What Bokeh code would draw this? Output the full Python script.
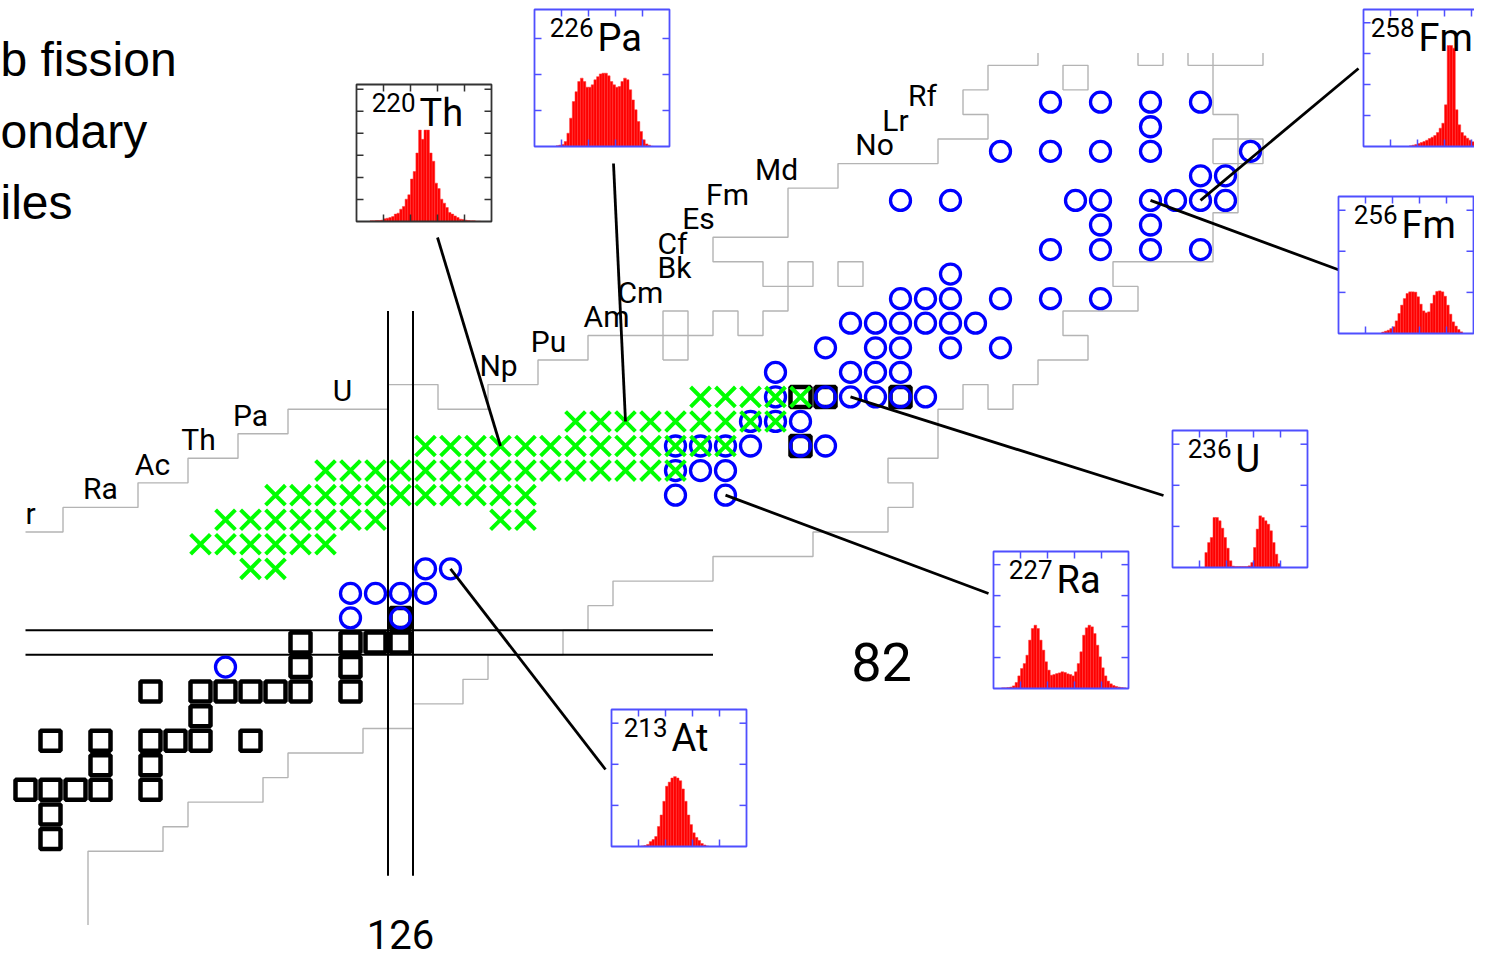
import numpy as np
from bokeh.plotting import figure
from bokeh.models import Range1d
from bokeh.core.properties import value
from bokeh.embed import file_html
from bokeh.resources import INLINE

# ---------------- data ----------------
N_MAGIC = 126
Z_MAGIC = 82

# black squares (Z, neutron numbers)
square_rows = [
    (74, [112]), (75, [112]), (76, [111, 112, 113, 114, 116]), (77, [114, 116]),
    (78, [112, 114, 116, 117, 118, 120]), (79, [118]),
    (80, [116, 118, 119, 120, 121, 122, 124]), (81, [122, 124]),
    (82, [122, 124, 125, 126]), (83, [126]), (90, [142]), (92, [142, 143, 146]),
]
# blue circles (Z, neutron numbers)
circle_rows = [
    (81, [119]), (83, [124, 126]), (84, [124, 125, 126, 127]), (85, [127, 128]),
    (88, [137, 139]), (89, [137, 138, 139]), (90, [137, 138, 139, 140, 142, 143]),
    (91, [140, 141, 142]), (92, [141, 143, 144, 145, 146, 147]),
    (93, [141, 144, 145, 146]), (94, [143, 145, 146, 148, 150]),
    (95, [144, 145, 146, 147, 148, 149]), (96, [146, 147, 148, 150, 152, 154]),
    (97, [148]), (98, [152, 154, 156, 158]), (99, [154, 156]),
    (100, [146, 148, 153, 154, 156, 157, 158, 159]), (101, [158, 159]),
    (102, [150, 152, 154, 156, 160]), (103, [156]), (104, [152, 154, 156, 158]),
]
# green crosses (Z, neutron numbers)
cross_rows = [
    (85, [120, 121]),
    (86, [118, 119, 120, 121, 122, 123]),
    (87, [119, 120, 121, 122, 123, 124, 125, 130, 131]),
    (88, [121, 122, 123, 124, 125, 126, 127, 128, 129, 130, 131]),
    (89, [123, 124, 125, 126, 127, 128, 129, 130, 131, 132, 133, 134, 135, 136, 137]),
    (90, [127, 128, 129, 130, 131, 132, 133, 134, 135, 136, 137, 138, 139]),
    (91, [133, 134, 135, 136, 137, 138, 139, 140, 141]),
    (92, [138, 139, 140, 141, 142]),
]

# element row labels
element_labels = ["r", "Ra", "Ac", "Th", "Pa", "U", "Np", "Pu", "Am", "Cm",
                  "Bk", "Cf", "Es", "Fm", "Md", "No", "Lr", "Rf"]
element_Z = [87, 88, 89, 90, 91, 92, 93, 94, 95, 96, 97, 98, 99, 100, 101, 102, 103, 104]

# boundaries of known nuclides (cell edges, N, Z)
upper_boundary = [
    (111, 86.5), (112.5, 86.5), (112.5, 87.5), (115.5, 87.5), (115.5, 88.5), (117.5, 88.5),
    (117.5, 89.5), (119.5, 89.5), (119.5, 90.5), (121.5, 90.5), (121.5, 91.5), (125.5, 91.5),
    (125.5, 92.5), (127.5, 92.5), (127.5, 91.5), (129.5, 91.5), (129.5, 92.5), (131.5, 92.5),
    (131.5, 93.5), (133.5, 93.5), (133.5, 94.5), (138.5, 94.5), (138.5, 95.5), (139.5, 95.5),
    (139.5, 94.5), (140.5, 94.5), (140.5, 95.5), (141.5, 95.5), (141.5, 96.5), (140.5, 96.5),
    (140.5, 97.5), (138.5, 97.5), (138.5, 98.5), (141.5, 98.5), (141.5, 100.5), (143.5, 100.5),
    (143.5, 101.5), (147.5, 101.5), (147.5, 102.5), (149.5, 102.5), (149.5, 103.5), (148.5, 103.5),
    (148.5, 104.5), (149.5, 104.5), (149.5, 105.5), (151.5, 105.5), (151.5, 106.0),
]
lower_boundary = [
    (113.5, 70.5), (113.5, 73.5), (116.5, 73.5), (116.5, 74.5), (117.5, 74.5), (117.5, 75.5),
    (120.5, 75.5), (120.5, 76.5), (121.5, 76.5), (121.5, 77.5), (124.5, 77.5), (124.5, 78.5),
    (126.5, 78.5), (126.5, 79.5), (128.5, 79.5), (128.5, 80.5), (129.5, 80.5), (129.5, 81.5),
    (132.5, 81.5), (132.5, 82.5), (133.5, 82.5), (133.5, 83.5), (134.5, 83.5), (134.5, 84.5),
    (138.5, 84.5), (138.5, 85.5), (142.5, 85.5), (142.5, 86.5), (145.5, 86.5), (145.5, 87.5),
    (146.5, 87.5), (146.5, 88.5), (145.5, 88.5), (145.5, 89.5), (147.5, 89.5), (147.5, 91.5),
    (148.5, 91.5), (148.5, 92.5), (149.5, 92.5), (149.5, 91.5), (150.5, 91.5), (150.5, 92.5),
    (151.5, 92.5), (151.5, 93.5), (153.5, 93.5), (153.5, 94.5), (152.5, 94.5), (152.5, 95.5),
    (155.5, 95.5), (155.5, 96.5), (154.5, 96.5), (154.5, 97.5), (158.5, 97.5), (158.5, 99.5),
    (159.5, 99.5), (159.5, 103.5), (158.5, 103.5), (158.5, 106.0),
]
extra_boundaries = [
    [(136.5, 93.5), (137.5, 93.5), (137.5, 95.5), (136.5, 95.5), (136.5, 93.5)],
    [(141.5, 96.5), (142.5, 96.5), (142.5, 97.5), (141.5, 97.5), (141.5, 96.5)],
    [(143.5, 96.5), (144.5, 96.5), (144.5, 97.5), (143.5, 97.5), (143.5, 96.5)],
    [(158.5, 101.5), (160.5, 101.5), (160.5, 102.5), (158.5, 102.5), (158.5, 101.5)],
    [(152.5, 104.5), (153.5, 104.5), (153.5, 105.5), (152.5, 105.5), (152.5, 104.5)],
    [(155.5, 106.0), (155.5, 105.5), (156.5, 105.5), (156.5, 106.0)],
    [(157.5, 106.0), (157.5, 105.5), (160.5, 105.5), (160.5, 106.0)],
]

# fission-fragment mass distributions (percent of inset height per bin)
inset_symbol = ["At", "Th", "Pa", "Ra", "U", "Fm", "Fm"]
inset_A = [213, 220, 226, 227, 236, 256, 258]
inset_Z = [85, 90, 91, 88, 92, 100, 100]
hist_start = [11, 5, 8, 3, 12, 16, 17]
hist_values = [
    [0.4, 0.7, 1.5, 3.6, 5.1, 7.3, 14.6, 23, 33, 44, 47, 50, 51, 50, 48, 42, 33, 23, 16, 10,
     6.6, 4.4, 2.2, 1.1, 0.4],
    [0.5, 0.5, 0.7, 0.7, 1, 2, 2.4, 2.9, 3.6, 5.4, 6.1, 9, 11, 16.3, 19.5, 31, 36.5, 50, 66.7,
     60, 66.7, 66.7, 50, 44, 28, 24, 16.3, 13.4, 10.2, 6.6, 5.4, 4.1, 2.9, 1.7, 1.5, 1, 0.7,
     0.5, 0.5, 0.2, 0.2],
    [0.5, 1, 1.5, 3.6, 9.7, 20.7, 32.8, 40, 47.4, 49.9, 47.4, 43.3, 43.3, 45, 48.7, 51, 53,
     53.5, 53.5, 51.6, 47.4, 45, 43.3, 43.8, 47.4, 49.9, 48.7, 41.4, 34, 26.8, 18.2, 11, 4.9,
     1.9, 1, 0.2],
    [0.5, 0.5, 0.7, 1, 1.9, 4.4, 9.2, 14.6, 18.2, 24.3, 35.3, 43.8, 46.2, 43.8, 35.3, 28, 19.5,
     13.4, 9.7, 10.2, 10.9, 11.4, 12.2, 11.7, 10.7, 10.2, 9.2, 12.2, 18.2, 26.8, 38.9, 44.3,
     46.2, 45, 40.1, 31.6, 23.1, 15.1, 9.2, 5.4, 3.4, 2.2, 1.5, 1, 0.7, 0.5],
    [10.9, 18.2, 21.9, 36.5, 36.5, 34.1, 28.7, 21.9, 14.1, 4.9, 1, 0.7, 0.7, 0.7, 0.7, 0.7,
     1.2, 3.6, 14.6, 28, 37.7, 36.5, 34.1, 31.6, 26.8, 18.2, 9.7, 2.9],
    [1, 1.7, 2.4, 3.6, 4.9, 9.2, 14.6, 20.7, 25.5, 29.2, 30.4, 30.4, 30.2, 26.8, 21.4, 16.5,
     15.1, 15.8, 21.9, 28, 30.7, 31.1, 30.4, 27.2, 20.7, 14.1, 8.5, 5.4, 2.9, 1.2],
    [0.5, 1, 1.5, 2.2, 2.9, 3.6, 4.6, 5.8, 6.8, 8, 10.2, 13.4, 17, 30.4, 73.7, 73.7, 71.8,
     26.8, 15.8, 10.2, 7.8, 6.1, 4.6, 3.4, 2.7, 1.9, 1.5, 1, 0.7, 0.5],
]
N_BINS = 50
inset_ytick_step = [30, 16.1, 26.3, 22.6, 30, 30, 22.6]

# ---------------- layout ----------------
W, H = 1474, 960
PAGE = 0
PX_N_MAGIC, PX_PER_N = 400.0, 25.0
PY_Z_MAGIC, PX_PER_Z = 642.0, 24.56
BASE_K = 0.38   # observed offset of the rendered baseline, in font sizes


def N_of(px):
    return N_MAGIC + (px - PX_N_MAGIC) / PX_PER_N


def Z_of(py):
    return Z_MAGIC + (PY_Z_MAGIC - py) / PX_PER_Z


def Zb(baseline_px, fs):
    return Z_of(baseline_px - BASE_K * fs)


label_px = [30, 100, 152, 198, 250, 342, 498, 548, 606, 640, 674, 672, 698, 727, 776, 874, 895, 922]
inset_box_px = [(611, 709), (356, 84), (534, 9), (993, 551), (1172, 430), (1338, 196), (1363, 9)]
inset_label_dx = [-3, 0, 0, 0, 0, 0, -8]
leader_start_px = [(605, 769), (437, 237), (613, 163), (988, 593), (1163, 495), (1340, 270), (1358, 68)]
inset_frame_color = ["#4f4fff", "#333333", "#4f4fff", "#4f4fff", "#4f4fff", "#4f4fff", "#4f4fff"]
IW, IH = 135, 137

CHART_FONT = value("Roboto")
SANS = value("Liberation Sans")
FS_EL, FS_MAGIC126, FS_MAGIC82, FS_SLIDE, FS_MASS, FS_SYM = 30, 40, 54, 48, 26, 38

p = figure(width=W, height=H, output_backend="svg", toolbar_location=None,
           x_range=Range1d(N_of(PAGE), N_of(PAGE + W)),
           y_range=Range1d(Z_of(PAGE + H), Z_of(PAGE)),
           x_axis_location=None, y_axis_location=None, min_border=0,
           outline_line_color=None, background_fill_color="white")
p.xgrid.visible = False
p.ygrid.visible = False

# gray boundaries
paths = [upper_boundary, lower_boundary] + extra_boundaries
p.multi_line(xs=[[v[0] for v in pth] for pth in paths],
             ys=[[v[1] for v in pth] for pth in paths],
             line_color="#b4b4b4", line_width=1.4)

# magic number lines
p.segment(x0=[N_MAGIC - 0.5, N_MAGIC + 0.5], y0=[72.5, 72.5],
          x1=[N_MAGIC - 0.5, N_MAGIC + 0.5], y1=[95.5, 95.5], line_color="black", line_width=2)
p.segment(x0=[111, 111], y0=[Z_MAGIC - 0.5, Z_MAGIC + 0.5],
          x1=[138.5, 138.5], y1=[Z_MAGIC - 0.5, Z_MAGIC + 0.5], line_color="black", line_width=2)


def flatten(rows):
    xs, ys = [], []
    for z, ns in rows:
        for n in ns:
            xs.append(n)
            ys.append(z)
    return xs, ys


sx, sy = flatten(square_rows)
p.scatter(x=sx, y=sy, marker="square", size=20, fill_color=None, line_color="black", line_width=4.5)
cx, cy = flatten(circle_rows)
p.scatter(x=cx, y=cy, marker="circle", size=20, fill_color=None, line_color="#0000ff", line_width=3.3)
xx, xy = flatten(cross_rows)
p.scatter(x=xx, y=xy, marker="x", size=28, line_color="#00ff00", line_width=4)

# element labels (baseline ~5 px below the row centre)
p.text(x=[N_of(v) for v in label_px],
       y=[Zb(PY_Z_MAGIC - (z - Z_MAGIC) * PX_PER_Z + 5, FS_EL) for z in element_Z],
       text=element_labels, text_align="center", text_baseline="alphabetic",
       text_font=CHART_FONT, text_font_size=f"{FS_EL}px", text_color="black")

# magic number labels
p.text(x=[N_MAGIC], y=[Zb(949, FS_MAGIC126)], text=[str(N_MAGIC)], text_align="center",
       text_baseline="alphabetic", text_font=CHART_FONT, text_font_size=f"{FS_MAGIC126}px",
       text_color="black")
p.text(x=[N_of(881)], y=[Zb(682, FS_MAGIC82)], text=[str(Z_MAGIC)], text_align="center",
       text_baseline="alphabetic", text_font=CHART_FONT, text_font_size=f"{FS_MAGIC82}px",
       text_color="black")

# slide text fragments on the left
p.text(x=[N_of(0), N_of(0), N_of(0)],
       y=[Zb(77, FS_SLIDE), Zb(149, FS_SLIDE), Zb(220, FS_SLIDE)],
       text=["b fission", "ondary", "iles"], text_align="left", text_baseline="alphabetic",
       text_font=SANS, text_font_size=f"{FS_SLIDE}px", text_color="black")

# leader lines
p.segment(x0=[N_of(s[0]) for s in leader_start_px], y0=[Z_of(s[1]) for s in leader_start_px],
          x1=[a - z for a, z in zip(inset_A, inset_Z)], y1=inset_Z,
          line_color="black", line_width=2.8)

# insets
for i in range(len(inset_A)):
    left, top = inset_box_px[i]
    kx = N_BINS / IW
    ky = 100.0 / IH
    xs0 = -(left - PAGE) * kx
    ys0 = -((PAGE + H) - (top + IH)) * ky
    xr, yr = f"ix{i}", f"iy{i}"
    p.extra_x_ranges[xr] = Range1d(xs0, xs0 + W * kx)
    p.extra_y_ranges[yr] = Range1d(ys0, ys0 + H * ky)
    kw = dict(x_range_name=xr, y_range_name=yr)
    col = inset_frame_color[i]
    p.quad(left=[0], right=[N_BINS], bottom=[0], top=[100], fill_color="white",
           line_color=None, **kw)
    vals = hist_values[i]
    edges = np.arange(hist_start[i], hist_start[i] + len(vals) + 1)
    p.quad(left=edges[:-1], right=edges[1:], bottom=0, top=vals, fill_color="#ff0000",
           line_color="#ff3b3b", line_width=0.5, **kw)
    # ticks
    tlx = 7 * kx
    tly = 7 * ky
    tx = [10, 20, 30, 40]
    x0s, y0s, x1s, y1s = [], [], [], []
    for t in tx:
        x0s += [t, t]; x1s += [t, t]
        y0s += [100, 0]; y1s += [100 - tly, tly]
    step = inset_ytick_step[i]
    t = step
    while t < 99:
        x0s += [0, N_BINS]; x1s += [tlx, N_BINS - tlx]
        y0s += [t, t]; y1s += [t, t]
        t += step
    p.segment(x0=x0s, y0=y0s, x1=x1s, y1=y1s, line_color=col, line_width=1.5, **kw)
    p.quad(left=[0], right=[N_BINS], bottom=[0], top=[100], fill_color=None,
           line_color=col, line_width=1.8, **kw)
    dx = inset_label_dx[i]
    p.text(x=[(59 + dx) * kx], y=[100 - (28 - BASE_K * FS_MASS) * ky], text=[str(inset_A[i])],
           text_align="right", text_baseline="alphabetic", text_font=CHART_FONT,
           text_font_size=f"{FS_MASS}px", text_color="black", **kw)
    p.text(x=[(63 + dx) * kx], y=[100 - (42.5 - BASE_K * FS_SYM) * ky], text=[inset_symbol[i]],
           text_align="left", text_baseline="alphabetic", text_font=CHART_FONT,
           text_font_size=f"{FS_SYM}px", text_color="black", **kw)

open("out.html", "w").write(file_html(p, INLINE))
